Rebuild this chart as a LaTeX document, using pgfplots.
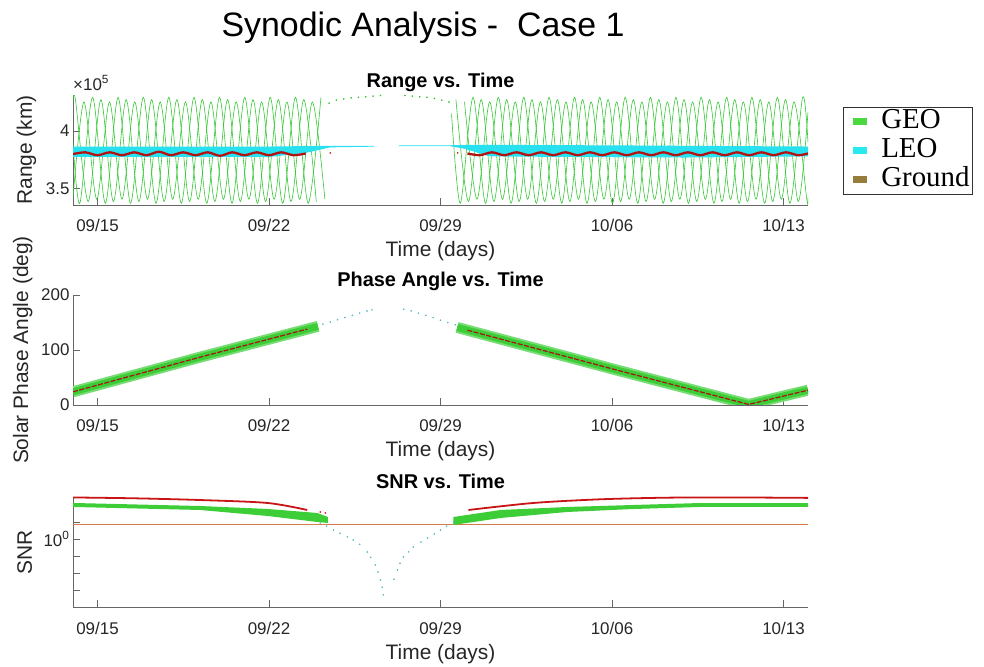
\documentclass[border=0pt]{standalone}
\usepackage{pgfplots}
\pgfplotsset{compat=1.18}
\usepackage{fontspec}
\setmainfont{Liberation Sans}
\newfontfamily\legendfont{Liberation Serif}

\definecolor{geoline}{RGB}{50,200,50}
\definecolor{geoband}{RGB}{60,205,55}
\definecolor{leo}{RGB}{40,225,240}
\definecolor{leodots}{RGB}{90,185,195}
\definecolor{redline}{RGB}{200,20,20}
\definecolor{groundline}{RGB}{215,125,75}
\definecolor{legendgeo}{RGB}{76,217,64}
\definecolor{legendleo}{RGB}{40,232,240}
\definecolor{legendground}{RGB}{150,125,60}

\newcommand{\labelfont}{\fontsize{21}{25}\selectfont}
\newcommand{\ticksfont}{\fontsize{17}{20}\selectfont}

\pgfplotsset{
  panel/.style={
    scale only axis, width=735bp, height=110bp,
    xmin=13, xmax=43,
    axis x line=bottom, axis y line=left,
    axis line style={-, black!60, line width=0.7pt},
    tick style={black!60, line width=0.7pt},
    tick align=inside,
    major tick length=7bp,
    xtick={14,21,28,35,42},
    xticklabels={09/15,09/22,09/29,10/06,10/13},
    tick label style={font=\ticksfont, text=black!85},
    xticklabel style={anchor=base, yshift=-27bp},
    /pgf/number format/assume math mode=true,
    every axis x label/.style={at={(axis description cs:0.5,0)}, anchor=base, yshift=-52bp, font=\labelfont, text=black!85},
    every axis title/.style={at={(axis description cs:0.5,1)}, anchor=base, yshift=8bp, font=\bfseries\fontsize{20}{24}\selectfont, text=black},
    xlabel={Time (days)},
  },
  ylab/.style={every axis y label/.style={at={(axis description cs:#1,0.5)}, rotate=90, anchor=base, font=\labelfont, text=black!85}},
  geo/.style={geoline, line width=0.6pt, smooth, forget plot},
  legbox/.style={legend image code/.code={\path[draw=none,fill=none] (0bp,0bp) -- (21bp,0bp); \fill[#1, draw=none] (7bp,-3.5bp) rectangle (21bp,3.5bp);}},
}

\begin{document}
\begin{tikzpicture}
\useasboundingbox (0,0) rectangle (984bp,667bp);

\node[font=\fontsize{34}{40}\selectfont, anchor=base] at (423bp,630bp) {Synodic Analysis -~~Case 1};

% ---------------- Range ----------------
\begin{axis}[panel, at={(73bp,462bp)}, anchor=south west,
  ymin=336000, ymax=431000, ytick={350000,400000}, yticklabels={3.5,4},
  scaled y ticks=false,
  ylab=-0.0558,
  ylabel={Range (km)}, title={Range vs. Time},
  extra description/.code={\node[anchor=base west, font=\ticksfont, text=black!85, yshift=5bp, inner sep=0pt] at (0,1) {×10\textsuperscript{5}};},
  legend style={at={(1,1)}, anchor=north west, xshift=35bp, yshift=-12bp,
    draw=black!80, line width=0.6pt, fill=white,
    font=\legendfont\fontsize{29}{30}\selectfont,
    inner xsep=3bp, inner ysep=0bp, row sep=0bp, column sep=14bp,
    nodes={inner sep=0bp, text height=21bp, text depth=8bp}},
  legend cell align=left,
]
% GEO, three interleaved tracks
\addplot[geo] coordinates {(13.00,425000)(13.10,427000)(13.62,339000)(14.14,427000)(14.65,339000)(15.17,427000)(15.69,339000)(16.21,427000)(16.72,339000)(17.24,427000)(17.76,339000)(18.28,427000)(18.79,339000)(19.31,427000)(19.83,339000)(20.35,427000)(20.86,339000)(21.38,427000)(21.90,339000)(22.42,427000)(22.93,339000)};
\addplot[geo] coordinates {(28.63,427000)(29.14,339000)(29.66,427000)(30.18,339000)(30.70,427000)(31.21,339000)(31.73,427000)(32.25,339000)(32.77,427000)(33.28,339000)(33.80,427000)(34.32,339000)(34.84,427000)(35.35,339000)(35.87,427000)(36.39,339000)(36.91,427000)(37.42,339000)(37.94,427000)(38.46,339000)(38.98,427000)(39.49,339000)(40.01,427000)(40.53,339000)(41.05,427000)(41.56,339000)(42.08,427000)(42.60,339000)(43.00,416000)};
\addplot[geo] coordinates {(13.00,342000)(13.45,425000)(13.97,341000)(14.49,425000)(15.00,341000)(15.52,425000)(16.04,341000)(16.56,425000)(17.07,341000)(17.59,425000)(18.11,341000)(18.63,425000)(19.14,341000)(19.66,425000)(20.18,341000)(20.70,425000)(21.21,341000)(21.73,425000)(22.25,341000)(22.77,425000)(23.28,341000)};
\addplot[geo] coordinates {(28.98,425000)(29.49,341000)(30.01,425000)(30.53,341000)(31.05,425000)(31.56,341000)(32.08,425000)(32.60,341000)(33.12,425000)(33.63,341000)(34.15,425000)(34.67,341000)(35.19,425000)(35.70,341000)(36.22,425000)(36.74,341000)(37.26,425000)(37.77,341000)(38.29,425000)(38.81,341000)(39.33,425000)(39.84,341000)(40.36,425000)(40.88,341000)(41.40,425000)(41.91,341000)(42.43,425000)(42.95,341000)(43.00,342000)};
\addplot[geo] coordinates {(13.00,390000)(13.28,337500)(13.80,429000)(14.32,337500)(14.84,429000)(15.35,337500)(15.87,429000)(16.39,337500)(16.91,429000)(17.42,337500)(17.94,429000)(18.46,337500)(18.98,429000)(19.49,337500)(20.01,429000)(20.53,337500)(21.05,429000)(21.56,337500)(22.08,429000)(22.60,337500)(23.12,429000)};
\addplot[geo] coordinates {(28.45,415000)(28.81,337500)(29.33,429000)(29.84,337500)(30.36,429000)(30.88,337500)(31.40,429000)(31.91,337500)(32.43,429000)(32.95,337500)(33.47,429000)(33.98,337500)(34.50,429000)(35.02,337500)(35.54,429000)(36.05,337500)(36.57,429000)(37.09,337500)(37.61,429000)(38.12,337500)(38.64,429000)(39.16,337500)(39.68,429000)(40.19,337500)(40.71,429000)(41.23,337500)(41.75,429000)(42.26,337500)(42.78,429000)(43.00,390000)};
% GEO, sparse samples near new moon
\addplot[only marks, mark=*, mark size=0.6pt, geoline, forget plot] coordinates {(23.45,424000)(23.75,426500)(24.05,427500)(24.35,428500)(24.65,429000)(24.95,429500)(25.25,430000)(25.55,430500)(26.55,430500)(26.85,430000)(27.15,429500)(27.45,429000)(27.75,428000)(28.05,426500)(28.35,425000)};
% LEO band
\addplot[fill=leo, draw=none, forget plot] coordinates {(13.0,386500)(21.0,386500)(23.0,387000)(25.3,387000)(25.3,386400)(23.5,385800)(22.5,381000)(21.0,377500)(13.0,377500)} -- cycle;
\addplot[fill=leo, draw=none, forget plot] coordinates {(26.3,387400)(28.4,387600)(29.5,388000)(35.0,387500)(43.0,386500)(43.0,378000)(38.0,377000)(33.0,377500)(30.0,378000)(29.0,384500)(28.4,386800)(26.3,386800)} -- cycle;
% second track
\addplot[redline!90!black, line width=2.3pt, smooth, forget plot] coordinates {(13.0,380000)(13.5,381500)(14.0,379000)(14.5,381500)(15.0,379000)(15.5,381500)(16.0,379000)(16.5,382000)(17.0,379000)(17.5,381500)(18.0,379000)(18.5,381500)(19.0,378500)(19.5,381500)(20.0,379000)(20.5,381500)(21.0,379000)(21.5,381500)(22.0,379000)(22.5,380500)};
\addplot[redline!90!black, line width=2.3pt, smooth, forget plot] coordinates {(29.1,380500)(29.6,379000)(30.1,381500)(30.6,379000)(31.1,381500)(31.6,379000)(32.1,381500)(32.6,379000)(33.1,381500)(33.6,379000)(34.1,381500)(34.6,379000)(35.1,381500)(35.6,379000)(36.1,381500)(36.6,379000)(37.1,381500)(37.6,379000)(38.1,381500)(38.6,379000)(39.1,381500)(39.6,379000)(40.1,381500)(40.6,379000)(41.1,381500)(41.6,379000)(42.1,381500)(42.6,379000)(43.0,380500)};
\addplot[only marks, mark=*, mark size=0.6pt, redline, forget plot] coordinates {(23.5,381000)(28.7,381000)};

\addlegendimage{legbox=legendgeo}
\addlegendentry{GEO}
\addlegendimage{legbox=legendleo}
\addlegendentry{LEO}
\addlegendimage{legbox=legendground}
\addlegendentry{Ground}
\end{axis}

% ---------------- Phase angle ----------------
\begin{axis}[panel, at={(73bp,262bp)}, anchor=south west,
  ymin=0, ymax=200, ytick={0,100,200},
  ylab=-0.0612,
  ylabel={Solar Phase Angle (deg)}, title={Phase Angle vs. Time},
]
\addplot[geoband!70, line width=11bp, line join=round, forget plot] coordinates {(13.0,24)(18.19,87)(23.0,143)};
\addplot[geoband!70, line width=11bp, line join=round, forget plot] coordinates {(28.68,141)(35.07,65)(40.58,1)(43.0,27)};
\addplot[geoband, line width=7bp, line join=round, forget plot] coordinates {(13.0,24)(18.19,87)(23.0,143)};
\addplot[geoband, line width=7bp, line join=round, forget plot] coordinates {(28.68,141)(35.07,65)(40.58,1)(43.0,27)};
\addplot[redline!85!black, line width=1.2pt, dash pattern=on 5bp off 1.5bp, forget plot] coordinates {(13.0,24)(18.19,87)(22.56,138)};
\addplot[redline!85!black, line width=1.2pt, dash pattern=on 5bp off 1.5bp, forget plot] coordinates {(29.1,136)(35.07,65)(40.58,1)(43.0,27)};
\addplot[only marks, mark=*, mark size=0.6pt, leodots, forget plot] coordinates {(23.2,147)(23.5,151)(23.8,155)(24.1,159)(24.4,163)(24.7,167)(25.0,171)(25.2,173)(26.5,174)(26.8,171)(27.1,167)(27.4,163)(27.7,159)(28.0,154)(28.3,150)(28.6,146)};
\end{axis}

% ---------------- SNR ----------------
\begin{axis}[panel, at={(73bp,60bp)}, anchor=south west,
  ymode=log, ymin=0.398, ymax=1.766, yminorticks=false,
  ytick={0.501,0.631,0.794,1,1.259}, yticklabels={,,,{10\textsuperscript{0}},},
  ylab=-0.0558,
  ylabel={SNR}, title={SNR vs. Time},
]
\addplot[groundline, line width=1pt, forget plot] coordinates {(13,1.209)(43,1.209)};
\addplot[fill=geoband, draw=none, forget plot] coordinates {(13.0,1.629)(18.19,1.563)(20.93,1.502)(22.97,1.422)(23.4,1.347)(23.4,1.242)(22.97,1.259)(20.93,1.366)(18.19,1.481)(13.0,1.543)} -- cycle;
\addplot[fill=geoband, draw=none, forget plot] coordinates {(28.53,1.347)(30.45,1.481)(33.19,1.543)(35.88,1.585)(38.62,1.628)(43.0,1.628)(43.0,1.543)(38.62,1.543)(35.88,1.501)(33.19,1.442)(30.45,1.329)(28.53,1.209)} -- cycle;
\addplot[redline, line width=1.8pt, smooth, forget plot] coordinates {(13.0,1.755)(15.5,1.735)(18.19,1.695)(20.93,1.629)(22.56,1.481)};
\addplot[redline, line width=1.8pt, smooth, forget plot] coordinates {(29.14,1.481)(31.80,1.629)(34.54,1.712)(37.27,1.750)(39.97,1.755)(43.0,1.745)};
\addplot[only marks, mark=*, mark size=0.6pt, redline, forget plot] coordinates {(23.09,1.442)(23.30,1.422)};
\addplot[only marks, mark=*, mark size=0.6pt, leodots, forget plot] coordinates {(23.09,1.242)(23.35,1.19)(23.63,1.130)(23.9,1.08)(24.2,1.03)(24.44,0.987)(24.7,0.93)(25.01,0.838)(25.15,0.78)(25.34,0.703)(25.45,0.64)(25.55,0.574)(25.62,0.52)(25.67,0.469)(26.1,0.58)(26.24,0.657)(26.35,0.72)(26.49,0.784)(26.7,0.84)(26.89,0.897)(27.2,0.96)(27.47,1.014)(27.75,1.07)(28.00,1.130)(28.25,1.19)(28.53,1.259)};
\end{axis}
\end{tikzpicture}
\end{document}
